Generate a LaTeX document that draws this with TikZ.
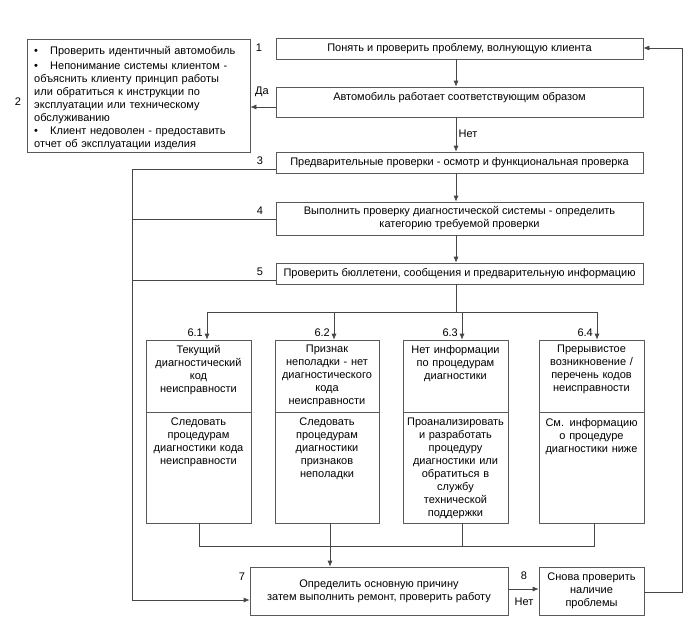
\documentclass[tikz,border=0pt]{standalone}
\usepackage{fontspec}
\setmainfont{Liberation Sans}
\usetikzlibrary{arrows.meta}
\newcommand\bitem[1]{\par\noindent\hangindent=16pt\hangafter=1\makebox[16pt][l]{•}#1\par}
\begin{document}
\begin{tikzpicture}[x=1pt,y=-1pt,
  every node/.style={font=\fontsize{11}{13}\selectfont, inner sep=0pt},
  ln/.style={draw=black!72, line width=0.7pt},
  arr/.style={ln, -{Latex[length=6pt,width=5pt]}},
  box/.style={draw=black!65, line width=0.7pt, rectangle, align=center},
  tw/.style={anchor=north, align=center, text width=102pt},
  lbl/.style={}]
\useasboundingbox (0,0) rectangle (700,642);

% main column boxes
\node[box, minimum width=367pt, minimum height=21pt] (b1) at (459.5,48.5) {Понять и проверить проблему, волнующую клиента};
\node[box, minimum width=367pt, minimum height=30pt] (b2) at (459.5,102) {};
\node (t2) at (459.5,98) {Автомобиль работает соответствующим образом};
\node[box, minimum width=367pt, minimum height=21pt] (b3) at (459.5,162.5) {Предварительные проверки - осмотр и функциональная проверка};
\node[box, minimum width=367pt, minimum height=33pt] (b4) at (459.5,218.5) {Выполнить проверку диагностической системы - определить\\категорию требуемой проверки};
\node[box, minimum width=367pt, minimum height=21pt] (b5) at (459.5,273.5) {Проверить бюллетени, сообщения и предварительную информацию};

% left box
\node[box, minimum width=223pt, minimum height=113pt] (L) at (138.5,95.5) {};
\node[anchor=north west, text width=212pt, align=left] (Lt) at (34,41) {%
\bitem{Проверить идентичный автомобиль}\vspace{2pt}%
\bitem{Непонимание системы клиентом -\\объяснить клиенту принцип работы\\или обратиться к инструкции по\\эксплуатации или техническому\\обслуживанию}%
\bitem{Клиент недоволен - предоставить\\отчет об эксплуатации изделия}};

% labels
\node (n1) at (259,48) {1};
\node (n2) at (18,102) {2};
\node (n3) at (260,161) {3};
\node (n4) at (260,211) {4};
\node (n5) at (260,272) {5};
\node (n7) at (242,577) {7};
\node (n8) at (524,576) {8};
\node (net2) at (524,602) {Нет};
\node (da) at (262,92) {Да};
\node (net1) at (468,134) {Нет};

% 6.x boxes
\node[box, minimum width=105pt, minimum height=72pt] (s61t) at (198.5,376) {};
\node[box, minimum width=105pt, minimum height=111pt] (s61b) at (198.5,467.5) {};
\node[box, minimum width=104pt, minimum height=72pt] (s62t) at (327,376) {};
\node[box, minimum width=104pt, minimum height=111pt] (s62b) at (327,467.5) {};
\node[box, minimum width=105pt, minimum height=72pt] (s63t) at (455.5,376) {};
\node[box, minimum width=105pt, minimum height=111pt] (s63b) at (455.5,467.5) {};
\node[box, minimum width=105pt, minimum height=72pt] (s64t) at (591.5,376) {};
\node[box, minimum width=105pt, minimum height=111pt] (s64b) at (591.5,467.5) {};

\node[tw] (x61t) at (198.5,345) {Текущий\\диагностический\\код\\неисправности};
\node[tw] (x61b) at (198.5,418) {Следовать\\процедурам\\диагностики кода\\неисправности};
\node[tw] (x62t) at (327,345) {Признак\\неполадки - нет\\диагностического\\кода\\неисправности};
\node[tw] (x62b) at (327,418) {Следовать\\процедурам\\диагностики\\признаков\\неполадки};
\node[tw] (x63t) at (455.5,345) {Нет информации\\по процедурам\\диагностики};
\node[tw] (x63b) at (455.5,418) {Проанализировать\\и разработать\\процедуру\\диагностики или\\обратиться в\\службу\\технической\\поддержки};
\node[tw] (x64t) at (591.5,345) {Прерывистое\\возникновение /\\перечень кодов\\неисправности};
\node[tw] (x64b) at (591.5,418) {См. информацию\\о процедуре\\диагностики ниже};

\node[anchor=east] (l61) at (203,333) {6.1};
\node[anchor=east] (l62) at (330,333) {6.2};
\node[anchor=east] (l63) at (458,333) {6.3};
\node[anchor=east] (l64) at (593,333) {6.4};

% bottom boxes
\node[box, minimum width=258pt, minimum height=48pt] (b7) at (379,591) {Определить основную причину\\затем выполнить ремонт, проверить работу};
\node[box, minimum width=105pt, minimum height=48pt] (b8) at (591.5,591) {Снова проверить\\наличие\\проблемы};

% connectors
\coordinate (cx) at (456,0);
\draw[arr] (cx |- b1.south) -- (cx |- b2.north);
\draw[arr] (cx |- b2.south) -- (cx |- b3.north);
\draw[arr] (cx |- b3.south) -- (cx |- b4.north);
\draw[arr] (cx |- b4.south) -- (cx |- b5.north);

\coordinate (dy) at (0,107);
\draw[arr] (b2.west |- dy) -- (L.east |- dy);

\coordinate (br) at (456,312);
\coordinate (brA) at (207,312);
\coordinate (brB) at (334,312);
\coordinate (brC) at (462,312);
\coordinate (brD) at (597,312);
\draw[ln] (cx |- b5.south) -- (br);
\draw[ln] (brA) -- (brD);
\draw[arr] (brA) -- (brA |- s61t.north);
\draw[arr] (brB) -- (brB |- s62t.north);
\draw[arr] (brC) -- (brC |- s63t.north);
\draw[arr] (brD) -- (brD |- s64t.north);

\coordinate (j1) at (199,546);
\coordinate (j2) at (330,546);
\coordinate (j3) at (462,546);
\coordinate (j4) at (594,546);
\draw[ln] (j1 |- s61b.south) -- (j1) -- (j4) -- (j4 |- s64b.south);
\draw[ln] (j3 |- s63b.south) -- (j3);
\draw[arr] (j2 |- s62b.south) -- (j2 |- b7.north);

\coordinate (l3) at (132,169);
\coordinate (l4) at (132,219);
\coordinate (l5) at (132,280);
\coordinate (l7) at (132,600);
\draw[ln] (b3.west |- l3) -- (l3) -- (l7);
\draw[ln] (l4) -- (b4.west |- l4);
\draw[ln] (l5) -- (b5.west |- l5);
\draw[arr] (l7) -- (b7.west |- l7);

\coordinate (a8) at (0,589);
\draw[arr] (b7.east |- a8) -- (b8.west |- a8);

\coordinate (r1) at (682,592);
\coordinate (r2) at (682,48);
\draw[arr] (b8.east |- r1) -- (r1) -- (r2) -- (b1.east |- r2);
\end{tikzpicture}
\end{document}
